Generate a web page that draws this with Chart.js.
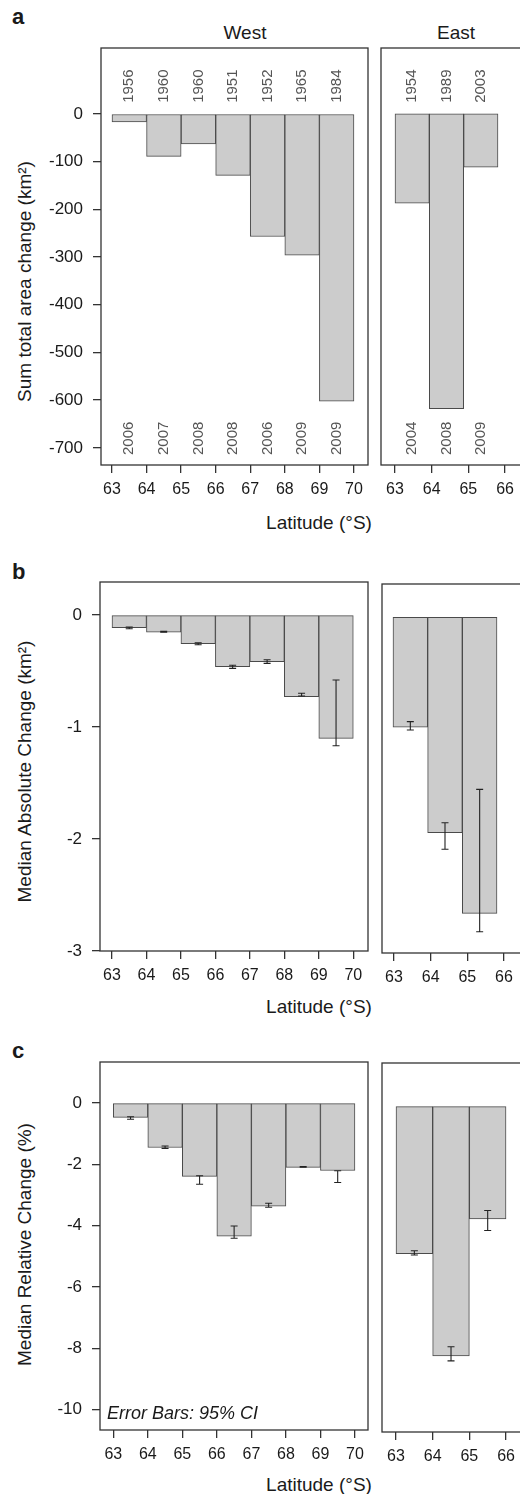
<!DOCTYPE html>
<html>
<head>
<meta charset="utf-8">
<script src="https://cdn.jsdelivr.net/npm/chart.js@4.4.0/dist/chart.umd.min.js"></script>
<style>
html, body { margin:0; padding:0; background:#fff; overflow:hidden; }
#fig { position:relative; width:520px; height:1494px; overflow:hidden; font-family:"Liberation Sans", Arial, sans-serif; color:#1a1a1a; }
.holder { position:absolute; }
.txt { position:absolute; white-space:nowrap; line-height:1; }
.letter { font-weight:bold; font-size:22px; }
.side { font-size:19px; width:100px; text-align:center; }
.xt { font-size:19px; width:200px; text-align:center; }
.yt { font-size:19px; width:360px; height:19px; text-align:center; transform:rotate(-90deg); }
</style>
</head>
<body>
<div id="fig">
  <div class="txt letter" style="left:12px;top:6px">a</div>
  <div class="txt letter" style="left:12px;top:561px">b</div>
  <div class="txt letter" style="left:12px;top:1040px">c</div>
  <div class="txt side" style="left:195px;top:23px">West</div>
  <div class="txt side" style="left:406px;top:23px">East</div>
  <div class="txt yt" style="left:-156px;top:272px">Sum total area change (km²)</div>
  <div class="txt yt" style="left:-156px;top:762px">Median Absolute Change (km²)</div>
  <div class="txt yt" style="left:-156px;top:1235px">Median Relative Change (%)</div>
  <div class="txt xt" style="left:219px;top:513px">Latitude (°S)</div>
  <div class="txt xt" style="left:219px;top:997px">Latitude (°S)</div>
  <div class="txt xt" style="left:219px;top:1475px">Latitude (°S)</div>
</div>
<script>
// latitude bands (bar centres) and axis ticks
const westLat = [63.5, 64.5, 65.5, 66.5, 67.5, 68.5, 69.5];
const eastLat = [63.5, 64.5, 65.5];
const westLatTicks = [63, 64, 65, 66, 67, 68, 69, 70];
const eastLatTicks = [63, 64, 65, 66];

// a) sum total area change, km2, with first / last survey years
const totalWest = [-17, -89, -63, -129, -257, -296, -602];
const totalEast = [-187, -618, -112];
const firstYearWest = ['1956', '1960', '1960', '1951', '1952', '1965', '1984'];
const lastYearWest = ['2006', '2007', '2008', '2008', '2006', '2009', '2009'];
const firstYearEast = ['1954', '1989', '2003'];
const lastYearEast = ['2004', '2008', '2009'];
const totalTicks = [0, -100, -200, -300, -400, -500, -600, -700];

// b) median absolute change, km2 (95% CI)
const absWest = [-0.113, -0.152, -0.256, -0.461, -0.417, -0.729, -1.101];
const absWestLo = [-0.122, -0.154, -0.265, -0.476, -0.432, -0.723, -1.167];
const absWestHi = [-0.107, -0.146, -0.247, -0.449, -0.399, -0.699, -0.580];
const absEast = [-0.982, -1.923, -2.643];
const absEastLo = [-1.006, -2.071, -2.807];
const absEastHi = [-0.932, -1.834, -1.536];
const absTicks = [0, -1, -2, -3];

// c) median relative change, % (95% CI)
const relWest = [-0.47, -1.45, -2.39, -4.34, -3.36, -2.10, -2.20];
const relWestLo = [-0.53, -1.48, -2.65, -4.41, -3.40, -2.09, -2.59];
const relWestHi = [-0.45, -1.40, -2.37, -4.01, -3.27, -2.07, -2.21];
const relEast = [-4.80, -8.13, -3.66];
const relEastLo = [-4.84, -8.29, -4.04];
const relEastHi = [-4.70, -7.83, -3.39];
const relTicks = [0, -2, -4, -6, -8, -10];

const FONT = '"Liberation Sans", Arial, sans-serif';
Chart.defaults.font.family = FONT;

// frame round the plot area
const frame = {
  id: 'frame',
  afterDraw(chart) {
    const a = chart.chartArea, ctx = chart.ctx;
    ctx.save();
    ctx.strokeStyle = '#333';
    ctx.lineWidth = 1.3;
    ctx.strokeRect(a.left, a.top, a.right - a.left, a.bottom - a.top);
    ctx.restore();
  }
};

// CI whiskers at the bar centres
const errBars = {
  id: 'errBars',
  afterDatasetsDraw(chart) {
    const e = chart.config.options.errors;
    if (!e) return;
    const ctx = chart.ctx, y = chart.scales.y;
    const bars = chart.getDatasetMeta(0).data;
    ctx.save();
    ctx.strokeStyle = '#222';
    ctx.lineWidth = 1.1;
    bars.forEach(function(bar, i) {
      const y1 = y.getPixelForValue(e.lo[i]), y2 = y.getPixelForValue(e.hi[i]);
      ctx.beginPath();
      ctx.moveTo(bar.x, y1); ctx.lineTo(bar.x, y2);
      ctx.moveTo(bar.x - 3.5, y1); ctx.lineTo(bar.x + 3.5, y1);
      ctx.moveTo(bar.x - 3.5, y2); ctx.lineTo(bar.x + 3.5, y2);
      ctx.stroke();
    });
    ctx.restore();
  }
};

// rotated year labels above zero and at the foot of panel a
const yearLabels = {
  id: 'yearLabels',
  afterDatasetsDraw(chart) {
    const yl = chart.config.options.years;
    if (!yl) return;
    const ctx = chart.ctx, a = chart.chartArea;
    const zero = chart.scales.y.getPixelForValue(0);
    const bars = chart.getDatasetMeta(0).data;
    ctx.save();
    ctx.fillStyle = '#555';
    ctx.font = '15px ' + FONT;
    ctx.textAlign = 'left';
    ctx.textBaseline = 'middle';
    bars.forEach(function(bar, i) {
      [[yl.top[i], zero - 11], [yl.bottom[i], a.bottom - 10]].forEach(function(t) {
        ctx.save();
        ctx.translate(bar.x, t[1]);
        ctx.rotate(-Math.PI / 2);
        ctx.fillText(t[0], 0, 0);
        ctx.restore();
      });
    });
    ctx.restore();
  }
};

const note = {
  id: 'note',
  afterDraw(chart) {
    const txt = chart.config.options.note;
    if (!txt) return;
    const ctx = chart.ctx, a = chart.chartArea;
    ctx.save();
    ctx.fillStyle = '#1a1a1a';
    ctx.font = 'italic 18px ' + FONT;
    ctx.textBaseline = 'alphabetic';
    ctx.fillText(txt, a.left + 7, a.bottom - 11);
    ctx.restore();
  }
};

function fixTicks(list) {
  return function(s) { s.ticks = list.map(function(v) { return {value: v}; }); };
}

// box = [left, right, top, bottom] of the plot frame on the page
function panel(p) {
  const east = p.east;
  const padL = east ? 10 : 0, padR = east ? 10 : 6, padT = 4, xH = 45;
  const left = east ? p.box[0] - padL : 0;
  const width = east ? 180 : p.box[1] + padR;
  const top = p.box[2] - padT;
  const height = p.box[3] - p.box[2] + padT + xH;

  const holder = document.createElement('div');
  holder.className = 'holder';
  holder.style.left = left + 'px';
  holder.style.top = top + 'px';
  holder.style.width = width + 'px';
  holder.style.height = height + 'px';
  const cv = document.createElement('canvas');
  holder.appendChild(cv);
  document.getElementById('fig').appendChild(holder);

  const gridOpts = {display: true, drawOnChartArea: false, drawTicks: true, tickLength: 8,
                    color: '#333', lineWidth: 1.3, offset: false};

  new Chart(cv, {
    type: 'bar',
    data: {
      datasets: [{
        data: p.lat.map(function(x, i) { return {x: x, y: p.values[i]}; }),
        xAxisID: 'xb',
        backgroundColor: '#cccccc',
        borderColor: '#4a4a4a',
        borderWidth: 1,
        borderSkipped: false,
        barPercentage: 1,
        categoryPercentage: 1
      }]
    },
    options: {
      responsive: true,
      maintainAspectRatio: false,
      animation: false,
      layout: {padding: {top: padT, left: padL, right: padR, bottom: 0}},
      errors: p.errors,
      years: p.years,
      note: p.note,
      plugins: {legend: {display: false}, tooltip: {enabled: false}},
      scales: {
        x: {
          type: 'linear', position: 'bottom', min: p.x[0], max: p.x[1], offset: false,
          afterBuildTicks: fixTicks(p.xticks),
          afterFit: function(s) { s.height = xH; s.paddingLeft = 0; s.paddingRight = 0; },
          grid: gridOpts,
          border: {display: false},
          ticks: {font: {size: 16, family: FONT}, color: '#1a1a1a', padding: 7, maxRotation: 0, autoSkip: false,
                  callback: function(v) { return String(v); }}
        },
        xb: {type: 'linear', position: 'bottom', display: false, offset: false,
             min: p.xb ? p.xb[0] : p.x[0], max: p.xb ? p.xb[1] : p.x[1]},
        y: {
          type: 'linear', min: p.y[0], max: p.y[1], display: !east,
          afterBuildTicks: fixTicks(p.yticks),
          afterFit: function(s) {
            // east panels have no y axis, so keep their width at zero
            s.width = east ? 0 : p.box[0];
            s.paddingTop = 0; s.paddingBottom = 0;
          },
          grid: gridOpts,
          border: {display: false},
          ticks: {font: {size: 17, family: FONT}, color: '#1a1a1a', padding: 10, autoSkip: false,
                  callback: function(v) { return String(v); }}
        }
      }
    },
    plugins: [frame, errBars, yearLabels, note]
  });
}

// panel a
panel({box: [101, 368, 48, 465], lat: westLat, values: totalWest, x: [62.682, 70.406], xticks: westLatTicks,
       y: [-736, 138], yticks: totalTicks, years: {top: firstYearWest, bottom: lastYearWest}});
panel({east: true, box: [381, null, 48, 465], lat: eastLat, values: totalEast, x: [62.618, 66.981], xb: [62.592, 67.253],
       xticks: eastLatTicks, y: [-736, 138], yticks: totalTicks, years: {top: firstYearEast, bottom: lastYearEast}});

// panel b
panel({box: [100, 368, 582, 951], lat: westLat, values: absWest, x: [62.652, 70.427], xticks: westLatTicks,
       y: [-3.0, 0.295], yticks: absTicks, errors: {lo: absWestLo, hi: absWestHi}});
panel({east: true, box: [382, null, 584, 953], lat: eastLat, values: absEast, x: [62.673, 67.036], xb: [62.683, 67.298],
       xticks: eastLatTicks, y: [-2.997, 0.297], yticks: absTicks, errors: {lo: absEastLo, hi: absEastHi}});

// panel c
panel({box: [100, 368, 1062, 1430], lat: westLat, values: relWest, x: [62.615, 70.378], xticks: westLatTicks,
       y: [-10.66, 1.337], yticks: relTicks, errors: {lo: relWestLo, hi: relWestHi}, note: 'Error Bars: 95% CI'});
panel({east: true, box: [382, null, 1063, 1432], lat: eastLat, values: relEast, x: [62.618, 66.981],
       xticks: eastLatTicks, y: [-10.61, 1.42], yticks: relTicks, errors: {lo: relEastLo, hi: relEastHi}});
</script>
</body>
</html>
